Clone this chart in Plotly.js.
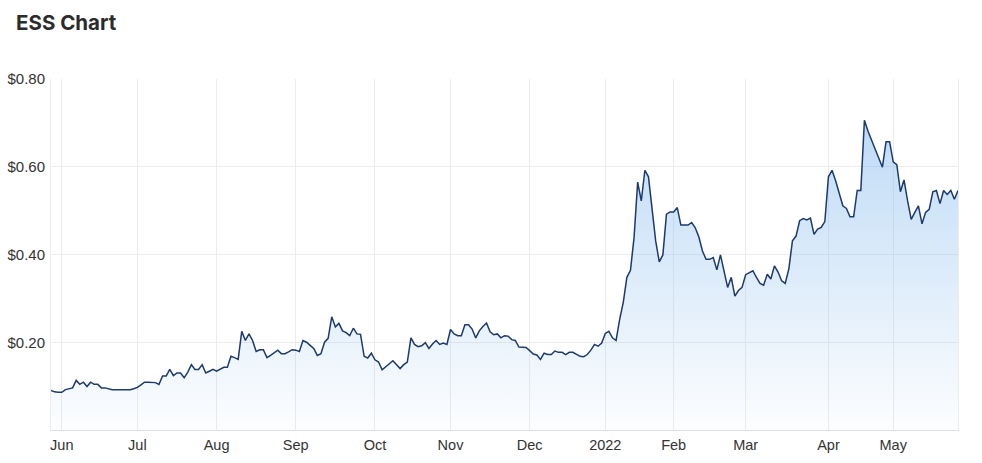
<!DOCTYPE html>
<html>
<head>
<meta charset="utf-8">
<script src="https://cdn.plot.ly/plotly-3.0.1.min.js"></script>
<style>
  html, body { margin: 0; padding: 0; background: #ffffff; }
  #chart { width: 982px; height: 463px; }
</style>
</head>
<body>
<div id="chart"></div>
<script>
// Trading calendar (ASX): first and last session, and market holidays in the span
const startDate = '2021-05-27';
const endDate = '2022-05-26';
const holidays = ['2021-06-14', '2021-12-27', '2021-12-28', '2022-01-03',
                  '2022-01-26', '2022-04-15', '2022-04-18', '2022-04-25'];

// Closing prices (AUD), one per trading session
const prices = [
  0.090, 0.087, 0.086, 0.086, 0.092, 0.094, 0.096, 0.113, 0.104, 0.109,
  0.099, 0.109, 0.104, 0.104, 0.096, 0.096, 0.094, 0.092, 0.092, 0.092,
  0.092, 0.092, 0.092, 0.094, 0.097, 0.103, 0.109, 0.109, 0.109, 0.108,
  0.104, 0.123, 0.123, 0.138, 0.124, 0.130, 0.130, 0.119, 0.132, 0.149,
  0.138, 0.138, 0.149, 0.130, 0.134, 0.138, 0.134, 0.138, 0.143, 0.143,
  0.168, 0.165, 0.161, 0.225, 0.204, 0.219, 0.204, 0.179, 0.183, 0.183,
  0.165, 0.170, 0.177, 0.182, 0.174, 0.174, 0.178, 0.183, 0.182, 0.179,
  0.204, 0.200, 0.193, 0.186, 0.170, 0.174, 0.200, 0.209, 0.258, 0.235,
  0.243, 0.226, 0.222, 0.215, 0.232, 0.219, 0.218, 0.168, 0.164, 0.175,
  0.160, 0.155, 0.137, 0.145, 0.151, 0.158, 0.150, 0.140, 0.149, 0.155,
  0.210, 0.195, 0.190, 0.192, 0.199, 0.186, 0.196, 0.204, 0.195, 0.198,
  0.195, 0.229, 0.219, 0.215, 0.215, 0.240, 0.240, 0.230, 0.210, 0.226,
  0.236, 0.244, 0.224, 0.217, 0.219, 0.210, 0.215, 0.214, 0.206, 0.204,
  0.189, 0.189, 0.188, 0.181, 0.173, 0.171, 0.161, 0.175, 0.172, 0.172,
  0.180, 0.177, 0.177, 0.172, 0.177, 0.177, 0.172, 0.168, 0.167, 0.172,
  0.182, 0.195, 0.191, 0.198, 0.220, 0.225, 0.210, 0.204, 0.252, 0.291,
  0.348, 0.364, 0.439, 0.565, 0.522, 0.592, 0.577, 0.507, 0.431, 0.383,
  0.399, 0.492, 0.497, 0.497, 0.507, 0.467, 0.467, 0.467, 0.473, 0.461,
  0.440, 0.408, 0.389, 0.389, 0.393, 0.365, 0.399, 0.363, 0.325, 0.348,
  0.305, 0.318, 0.325, 0.354, 0.358, 0.363, 0.348, 0.334, 0.330, 0.355,
  0.344, 0.374, 0.360, 0.340, 0.334, 0.367, 0.431, 0.442, 0.477, 0.482,
  0.479, 0.483, 0.446, 0.458, 0.462, 0.475, 0.577, 0.592, 0.568, 0.537,
  0.511, 0.505, 0.486, 0.486, 0.546, 0.546, 0.706, 0.681, null, null,
  null, 0.599, 0.657, 0.657, 0.611, 0.605, 0.543, 0.570, 0.522, 0.480,
  0.496, 0.511, 0.470, 0.496, 0.503, 0.543, 0.546, 0.516, 0.546, 0.537,
  0.546, 0.526, 0.546
];

// Month tick marks: first trading session of each month, and their labels
const tickDates = ['2021-06-01', '2021-07-01', '2021-08-02', '2021-09-01', '2021-10-01',
                   '2021-11-01', '2021-12-01', '2022-01-04', '2022-02-01', '2022-03-01',
                   '2022-04-01', '2022-05-02'];
const tickLabels = ['Jun', 'Jul', 'Aug', 'Sep', 'Oct', 'Nov', 'Dec', '2022', 'Feb', 'Mar', 'Apr', 'May'];

const yTickVals = [0.2, 0.4, 0.6, 0.8];
const yTickText = ['$0.20', '$0.40', '$0.60', '$0.80'];

// Build the list of trading sessions from the calendar
function tradingDays(start, end, skip) {
  const out = [];
  const d = new Date(start + 'T00:00:00Z');
  const e = new Date(end + 'T00:00:00Z');
  while (d <= e) {
    const wd = d.getUTCDay();
    const s = d.toISOString().slice(0, 10);
    if (wd !== 0 && wd !== 6 && skip.indexOf(s) === -1) out.push(s);
    d.setUTCDate(d.getUTCDate() + 1);
  }
  return out;
}
const dates = tradingDays(startDate, endDate, holidays);

const trace = {
  x: dates,
  y: prices,
  type: 'scatter',
  mode: 'lines',
  connectgaps: true,
  line: { color: '#1c3a6e', width: 1.5 },
  fill: 'tozeroy',
  fillcolor: 'rgba(124,181,236,0.4)',
  fillgradient: {
    type: 'vertical',
    start: 0,
    stop: 0.72,
    colorscale: [[0, 'rgba(124,181,236,0.02)'], [1, 'rgba(124,181,236,0.5)']]
  },
  hoverinfo: 'x+y'
};

const layout = {
  width: 982,
  height: 463,
  margin: { l: 51, r: 24, t: 79, b: 33 },
  paper_bgcolor: '#ffffff',
  plot_bgcolor: '#ffffff',
  showlegend: false,
  font: { family: 'Liberation Sans, Arial, sans-serif', size: 14, color: '#333333' },
  title: {
    text: 'ESS Chart',
    font: { family: 'Inter, Roboto, sans-serif', size: 20.5, color: '#2b2b2b', weight: 700 },
    xref: 'container', yref: 'container',
    x: 16 / 982, xanchor: 'left',
    y: 1 - 23 / 463, yanchor: 'middle'
  },
  xaxis: {
    type: 'category',
    range: [0, dates.length - 1],
    tickmode: 'array',
    tickvals: tickDates,
    ticktext: tickLabels,
    showgrid: true,
    gridcolor: '#ececec',
    gridwidth: 1,
    showline: true,
    linecolor: '#e0e0e0',
    linewidth: 1,
    mirror: false,
    ticks: '',
    ticklabelstandoff: 2,
    tickfont: { family: 'Liberation Sans, Arial, sans-serif', size: 14.5, color: '#333333' },
    fixedrange: true,
    zeroline: false
  },
  yaxis: {
    range: [0, 0.8],
    tickmode: 'array',
    tickvals: yTickVals,
    ticktext: yTickText,
    showgrid: true,
    gridcolor: '#ececec',
    gridwidth: 1,
    showline: true,
    linecolor: '#ececec',
    linewidth: 1,
    mirror: true,
    zeroline: false,
    ticks: '',
    ticklabelstandoff: 2,
    tickfont: { family: 'Liberation Sans, Arial, sans-serif', size: 15, color: '#333333' },
    fixedrange: true
  }
};

Plotly.newPlot('chart', [trace], layout, { displayModeBar: false, staticPlot: true });
</script>
</body>
</html>
